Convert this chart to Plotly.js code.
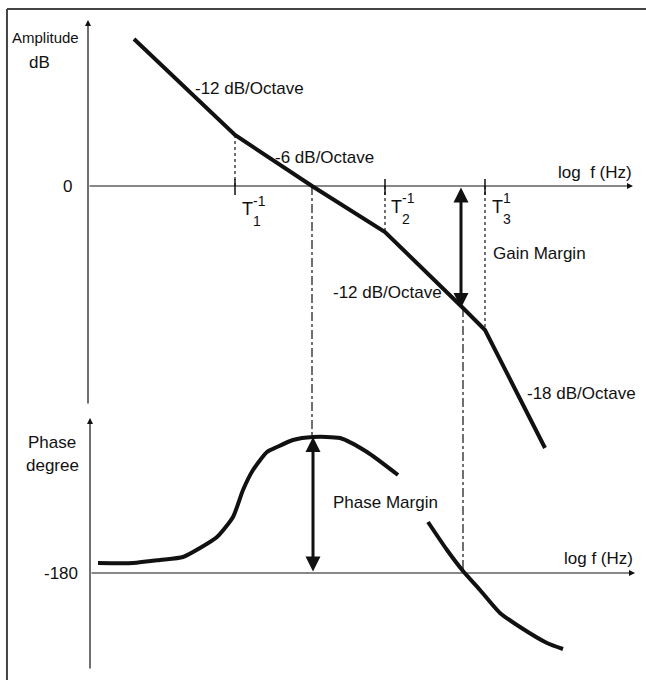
<!DOCTYPE html>
<html>
<head>
<meta charset="utf-8">
<script src="https://cdn.plot.ly/plotly-3.0.1.min.js"></script>
<style>html,body{margin:0;padding:0;background:#fff}#chart{width:646px;height:680px}</style>
</head>
<body>
<div id="chart"></div>
<script>
// ---- data (x = log f in arbitrary units, amplitude in dB, phase in degree) ----
var ampLogF = [0.46, 1.47, 2.24, 2.97, 3.75, 3.97, 4.57];
var ampDb   = [36.75, 12.75, 0, -11.5, -30.5, -36, -65.5];
var slopeLabels = ["-12 dB/Octave", "-6 dB/Octave", "-12 dB/Octave", "-18 dB/Octave"];

var phaseLogF = [0.10, 0.45, 0.72, 0.95, 1.12, 1.29, 1.45, 1.55, 1.65, 1.79, 1.89, 2.05, 2.25, 2.52, 2.79, 3.10,
                 null, 3.40, 3.59, 3.75, 3.92, 4.12, 4.32, 4.59, 4.75];
var phaseDeg  = [-175, -175, -173.5, -172, -167.5, -162, -152, -138.5, -128.5, -119.5, -117, -113.5, -112, -112.5, -119.5, -131,
                 null, -154.5, -168.5, -179, -188.5, -200, -207, -215, -218];

var breakIdx = [1, 3, 5];           // T1^-1, T2^-1, T3^1 corner points in ampLogF
var tickSup = ["-1", "-1", "1"];
var tickSub = ["1", "2", "3"];
var gainCrossIdx = 2;               // 0 dB crossing
var phaseCrossIdx = 4;              // -180 deg crossing (on amplitude curve)
var phaseRef = -180;

// ---- axis ranges ----
var xRange = [-0.88, 5.58];
var ampRange = [-123.5, 46.5];
var phRange = [-233.5, 106.5];
function phToAmp(p){ return ampRange[0] + (p - phRange[0]) / (phRange[1] - phRange[0]) * (ampRange[1] - ampRange[0]); }

var ink = '#111';
var FONT = 'Liberation Sans, Arial, sans-serif';
var traces = [];

// amplitude curve
traces.push({x: ampLogF, y: ampDb, xaxis:'x', yaxis:'y', mode:'lines', line:{color:ink, width:4}, hoverinfo:'skip'});
// phase curve
traces.push({x: phaseLogF, y: phaseDeg, xaxis:'x', yaxis:'y2', mode:'lines', connectgaps:false,
             line:{color:ink, width:4, shape:'spline', smoothing:0.6}, hoverinfo:'skip'});

// dotted corner-frequency guides
breakIdx.forEach(function(i){
  traces.push({x:[ampLogF[i], ampLogF[i]], y:[0, ampDb[i]], mode:'lines', line:{color:ink, width:1.2, dash:'dot'}, hoverinfo:'skip'});
});

// phase peak (at gain crossover)
var xc = ampLogF[gainCrossIdx];
var peak = Math.max.apply(null, phaseDeg.filter(function(v){return v!==null;}));
var xp = ampLogF[phaseCrossIdx];
traces.push({x:[xc, xc], y:[0, phToAmp(peak)], mode:'lines', line:{color:ink, width:1.2, dash:'dashdot'}, hoverinfo:'skip'});
traces.push({x:[xp, xp], y:[ampDb[phaseCrossIdx], phToAmp(phaseRef)], mode:'lines', line:{color:ink, width:1.2, dash:'dashdot'}, hoverinfo:'skip'});

var shapes = [];
// ticks at corner frequencies
breakIdx.forEach(function(i){
  shapes.push({type:'line', xref:'x', yref:'y', x0:ampLogF[i], x1:ampLogF[i], y0:1.75, y1:-2.25, line:{color:ink, width:1.5}});
});
// page frame (top and left only)
shapes.push({type:'line', xref:'paper', yref:'paper', x0:0.0108, x1:1, y0:0.9868, y1:0.9868, line:{color:'#444', width:2}});
shapes.push({type:'line', xref:'paper', yref:'paper', x0:0.0108, x1:0.0108, y0:0, y1:0.9868, line:{color:'#444', width:2}});

var ann = [];
function axisArrow(x, y, ax, ay, yref){
  ann.push({xref:'x', yref:yref, axref:'x', ayref:yref, x:x, y:y, ax:ax, ay:ay, text:'', showarrow:true,
            arrowhead:2, arrowsize:1, arrowwidth:1.2, arrowcolor:ink, standoff:0});
}
// amplitude axes
axisArrow(0, 41.5, 0, -54.75, 'y');
axisArrow(5.45, 0, 0, 0, 'y');
// phase axes
axisArrow(0.02, -102.5, 0.02, -228.5, 'y2');
axisArrow(5.47, phaseRef, 0.02, phaseRef, 'y2');

// margin double arrows
ann.push({xref:'x', yref:'y', axref:'x', ayref:'y', x:3.73, y:ampDb[phaseCrossIdx], ax:3.73, ay:0, text:'', showarrow:true,
          arrowhead:2, arrowside:'end+start', arrowsize:1, arrowwidth:3, arrowcolor:ink, standoff:0, startstandoff:0});
ann.push({xref:'x', yref:'y2', axref:'x', ayref:'y2', x:2.25, y:peak, ax:2.25, ay:phaseRef, text:'', showarrow:true,
          arrowhead:2, arrowside:'end+start', arrowsize:1, arrowwidth:3, arrowcolor:ink, standoff:0, startstandoff:0});

function label(text, x, y, yref, xanchor, size){
  ann.push({xref:'x', yref:yref, x:x, y:y, text:text, showarrow:false, xanchor:xanchor, yanchor:'middle',
            borderpad:0, font:{family:FONT, size:size||17, color:ink}});
}
label('Amplitude', -0.77, 37.25, 'y', 'left', 15);
label('dB', -0.60, 31, 'y', 'left');
label('0', -0.15, 0, 'y', 'right');
label(slopeLabels[0], 1.06, 24.5, 'y', 'left');
label(slopeLabels[1], 1.86, 7.25, 'y', 'left');
label(slopeLabels[2], 2.44, -26.5, 'y', 'left');
label(slopeLabels[3], 4.38, -51.75, 'y', 'left');
label('log  f (Hz)', 5.45, 3.5, 'y', 'right');
label('Gain Margin', 4.04, -16.75, 'y', 'left');
label('Phase', -0.365, -114.5, 'y2', 'center');
label('degree', -0.36, -126, 'y2', 'center');
label('-180', -0.09, phaseRef, 'y2', 'right');
label('Phase Margin', 2.44, -144.5, 'y2', 'left');
label('log f (Hz)', 5.46, -172.5, 'y2', 'right');

// corner frequency labels T_n^(±1)
var tOff = [[0.06, -5.75], [0.05, -5.2], [0.06, -5.2]];
breakIdx.forEach(function(i, k){
  var x0 = ampLogF[i] + tOff[k][0], y0 = tOff[k][1];
  label('T', x0, y0, 'y', 'left', 18);
  label(tickSub[k], x0 + 0.105, y0 - 3.1, 'y', 'left', 14);
  label(tickSup[k], x0 + 0.105, y0 + 2.1, 'y', 'left', 14);
});

var layout = {
  width:646, height:680, margin:{l:0, r:0, t:0, b:0},
  paper_bgcolor:'#fff', plot_bgcolor:'#fff', showlegend:false,
  xaxis:{range:xRange, visible:false, fixedrange:true},
  yaxis:{range:ampRange, visible:false, fixedrange:true},
  yaxis2:{range:phRange, visible:false, overlaying:'y', fixedrange:true},
  shapes:shapes, annotations:ann
};
Plotly.newPlot('chart', traces, layout, {displayModeBar:false, staticPlot:true});
</script>
</body>
</html>
